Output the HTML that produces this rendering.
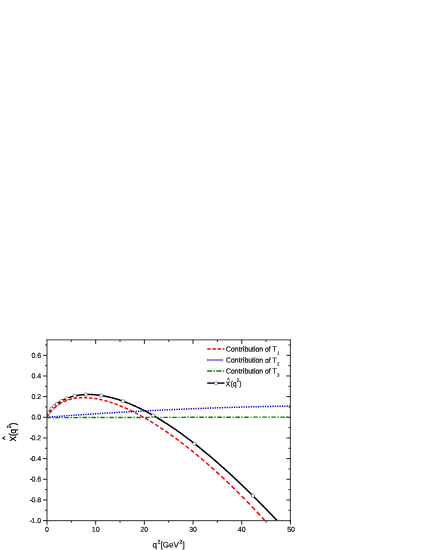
<!DOCTYPE html>
<html><head><meta charset="utf-8"><title>chart</title>
<style>
html,body{margin:0;padding:0;background:#fff;}
body{width:425px;height:550px;position:relative;overflow:hidden;font-family:"Liberation Sans",sans-serif;color:#111;}
.t{position:absolute;left:0;top:0;white-space:nowrap;line-height:1;-webkit-text-stroke:0.12px #111;}
.yl{font-size:7px;text-align:right;width:30px;-webkit-text-stroke:0.2px #111;}
.xl{font-size:7px;text-align:center;width:30px;-webkit-text-stroke:0.2px #111;}
.lg{font-size:6.87px;-webkit-text-stroke:0.22px #111;}
sub{font-size:4.5px;vertical-align:baseline;position:relative;top:2.6px;left:0.3px;-webkit-text-stroke:0.1px #111;color:#111}
sup{font-size:4.2px;vertical-align:baseline;position:relative;top:-3.2px;-webkit-text-stroke:0;color:#333}
.s2{font-size:5.2px;top:-4.2px;margin-left:0.6px;margin-right:0.1px;color:#000;-webkit-text-stroke:0.2px #000;}
</style></head><body>
<svg width="425" height="550" viewBox="0 0 425 550" style="position:absolute;left:0;top:0">
<defs><clipPath id="c"><rect x="47.0" y="339.9" width="243.39999999999998" height="180.80000000000007"/></clipPath></defs>
<g clip-path="url(#c)" fill="none">
<path d="M47.00,417.70 L47.01,417.46 L47.03,417.22 L47.06,416.96 L47.10,416.69 L47.16,416.42 L47.23,416.13 L47.31,415.84 L47.41,415.53 L47.52,415.22 L47.61,414.98 L47.64,414.91 L47.77,414.58 L47.92,414.25 L48.08,413.91 L48.22,413.63 L48.25,413.57 L48.44,413.22 L48.64,412.86 L48.83,412.53 L48.85,412.50 L49.07,412.14 L49.31,411.77 L49.44,411.57 L49.56,411.39 L49.82,411.02 L50.05,410.70 L50.10,410.64 L50.39,410.25 L50.66,409.90 L50.69,409.87 L51.00,409.48 L51.27,409.16 L51.33,409.09 L51.67,408.70 L51.88,408.47 L52.02,408.31 L52.38,407.92 L52.49,407.81 L52.76,407.53 L53.10,407.19 L53.15,407.14 L53.55,406.75 L53.71,406.60 L53.97,406.36 L54.32,406.04 L54.40,405.97 L54.84,405.58 L54.93,405.50 L55.30,405.19 L55.54,404.99 L55.76,404.81 L56.15,404.50 L56.24,404.42 L56.74,404.04 L56.76,404.03 L57.37,403.57 L57.98,403.14 L58.59,402.72 L59.20,402.32 L59.81,401.93 L60.42,401.56 L61.03,401.20 L61.64,400.86 L62.25,400.53 L62.86,400.21 L63.47,399.90 L64.08,399.60 L64.69,399.32 L65.30,399.04 L65.91,398.78 L66.52,398.52 L67.13,398.28 L67.74,398.04 L68.35,397.82 L68.96,397.60 L69.57,397.39 L70.18,397.19 L70.79,397.00 L71.40,396.82 L72.01,396.65 L72.62,396.48 L73.23,396.32 L73.84,396.17 L74.45,396.03 L75.06,395.89 L75.67,395.76 L76.28,395.64 L76.89,395.52 L77.50,395.41 L78.11,395.31 L78.72,395.21 L79.33,395.13 L79.94,395.04 L80.55,394.97 L81.16,394.89 L81.77,394.83 L82.38,394.77 L82.99,394.72 L83.60,394.67 L84.21,394.63 L84.82,394.59 L85.43,394.56 L86.04,394.54 L86.65,394.52 L87.26,394.51 L87.87,394.50 L88.48,394.49 L89.09,394.50 L89.70,394.50 L90.31,394.51 L90.92,394.53 L91.53,394.55 L92.14,394.58 L92.75,394.61 L93.36,394.64 L93.97,394.68 L94.58,394.73 L95.19,394.78 L95.80,394.83 L96.41,394.89 L97.02,394.95 L97.63,395.02 L98.24,395.09 L98.85,395.17 L99.46,395.25 L100.07,395.33 L100.68,395.42 L101.29,395.51 L101.90,395.61 L102.51,395.71 L103.12,395.82 L103.73,395.92 L104.34,396.04 L104.95,396.15 L105.56,396.27 L106.17,396.40 L106.78,396.53 L107.39,396.66 L108.00,396.79 L108.61,396.93 L109.22,397.07 L109.83,397.22 L110.44,397.37 L111.05,397.52 L111.66,397.68 L112.27,397.84 L112.88,398.01 L113.49,398.17 L114.10,398.34 L114.71,398.52 L115.32,398.70 L115.93,398.88 L116.54,399.06 L117.15,399.25 L117.76,399.44 L118.37,399.63 L118.98,399.83 L119.59,400.03 L120.20,400.23 L120.81,400.44 L121.42,400.65 L122.03,400.86 L122.64,401.08 L123.25,401.30 L123.86,401.52 L124.47,401.75 L125.08,401.98 L125.69,402.21 L126.30,402.44 L126.91,402.68 L127.52,402.92 L128.13,403.16 L128.74,403.41 L129.35,403.65 L129.96,403.91 L130.57,404.16 L131.18,404.42 L131.79,404.68 L132.40,404.94 L133.01,405.21 L133.62,405.47 L134.23,405.74 L134.84,406.02 L135.45,406.29 L136.06,406.57 L136.67,406.85 L137.28,407.14 L137.89,407.42 L138.50,407.71 L139.11,408.01 L139.72,408.30 L140.33,408.60 L140.94,408.90 L141.55,409.20 L142.16,409.50 L142.77,409.81 L143.38,410.12 L143.99,410.43 L144.60,410.75 L145.21,411.06 L145.82,411.38 L146.43,411.70 L147.04,412.03 L147.65,412.35 L148.26,412.68 L148.87,413.01 L149.48,413.35 L150.09,413.68 L150.70,414.02 L151.31,414.36 L151.92,414.70 L152.53,415.05 L153.14,415.40 L153.75,415.74 L154.36,416.10 L154.97,416.45 L155.58,416.81 L156.19,417.16 L156.80,417.53 L157.41,417.89 L158.02,418.25 L158.63,418.62 L159.24,418.99 L159.85,419.36 L160.46,419.73 L161.07,420.11 L161.68,420.49 L162.29,420.87 L162.90,421.25 L163.51,421.63 L164.12,422.02 L164.73,422.40 L165.34,422.79 L165.95,423.19 L166.56,423.58 L167.17,423.98 L167.78,424.37 L168.39,424.77 L169.01,425.18 L169.62,425.58 L170.23,425.98 L170.84,426.39 L171.45,426.80 L172.06,427.21 L172.67,427.63 L173.28,428.04 L173.89,428.46 L174.50,428.88 L175.11,429.30 L175.72,429.72 L176.33,430.15 L176.94,430.57 L177.55,431.00 L178.16,431.43 L178.77,431.86 L179.38,432.30 L179.99,432.73 L180.60,433.17 L181.21,433.61 L181.82,434.05 L182.43,434.50 L183.04,434.94 L183.65,435.39 L184.26,435.83 L184.87,436.28 L185.48,436.74 L186.09,437.19 L186.70,437.64 L187.31,438.10 L187.92,438.56 L188.53,439.02 L189.14,439.48 L189.75,439.94 L190.36,440.41 L190.97,440.88 L191.58,441.35 L192.19,441.82 L192.80,442.29 L193.41,442.76 L194.02,443.24 L194.63,443.71 L195.24,444.19 L195.85,444.67 L196.46,445.15 L197.07,445.64 L197.68,446.12 L198.29,446.61 L198.90,447.09 L199.51,447.58 L200.12,448.07 L200.73,448.57 L201.34,449.06 L201.95,449.56 L202.56,450.05 L203.17,450.55 L203.78,451.05 L204.39,451.55 L205.00,452.06 L205.61,452.56 L206.22,453.07 L206.83,453.58 L207.44,454.09 L208.05,454.60 L208.66,455.11 L209.27,455.62 L209.88,456.14 L210.49,456.65 L211.10,457.17 L211.71,457.69 L212.32,458.21 L212.93,458.73 L213.54,459.26 L214.15,459.78 L214.76,460.31 L215.37,460.84 L215.98,461.37 L216.59,461.90 L217.20,462.43 L217.81,462.96 L218.42,463.50 L219.03,464.03 L219.64,464.57 L220.25,465.11 L220.86,465.65 L221.47,466.19 L222.08,466.73 L222.69,467.28 L223.30,467.82 L223.91,468.37 L224.52,468.92 L225.13,469.47 L225.74,470.02 L226.35,470.57 L226.96,471.12 L227.57,471.68 L228.18,472.23 L228.79,472.79 L229.40,473.35 L230.01,473.91 L230.62,474.47 L231.23,475.03 L231.84,475.60 L232.45,476.16 L233.06,476.73 L233.67,477.30 L234.28,477.86 L234.89,478.43 L235.50,479.01 L236.11,479.58 L236.72,480.15 L237.33,480.73 L237.94,481.30 L238.55,481.88 L239.16,482.46 L239.77,483.04 L240.38,483.62 L240.99,484.20 L241.60,484.78 L242.21,485.37 L242.82,485.95 L243.43,486.54 L244.04,487.13 L244.65,487.72 L245.26,488.31 L245.87,488.90 L246.48,489.49 L247.09,490.08 L247.70,490.68 L248.31,491.27 L248.92,491.87 L249.53,492.47 L250.14,493.07 L250.75,493.67 L251.36,494.27 L251.97,494.87 L252.58,495.48 L253.19,496.08 L253.80,496.69 L254.41,497.29 L255.02,497.90 L255.63,498.51 L256.24,499.12 L256.85,499.73 L257.46,500.34 L258.07,500.96 L258.68,501.57 L259.29,502.19 L259.90,502.80 L260.51,503.42 L261.12,504.04 L261.73,504.66 L262.34,505.28 L262.95,505.90 L263.56,506.52 L264.17,507.15 L264.78,507.77 L265.39,508.40 L266.00,509.03 L266.61,509.65 L267.22,510.28 L267.83,510.91 L268.44,511.54 L269.05,512.17 L269.66,512.81 L270.27,513.44 L270.88,514.08 L271.49,514.71 L272.10,515.35 L272.71,515.99 L273.32,516.63 L273.93,517.27 L274.54,517.91 L275.15,518.55 L275.76,519.19 L276.37,519.83 L276.98,520.48 L277.59,521.12" stroke="#000" stroke-width="1.5"/>
<circle cx="48.70" cy="412.75" r="1.7" fill="#fff" stroke="#222" stroke-width="0.45"/>
<circle cx="51.58" cy="408.81" r="1.7" fill="#fff" stroke="#222" stroke-width="0.45"/>
<circle cx="54.06" cy="406.28" r="1.7" fill="#fff" stroke="#222" stroke-width="0.45"/>
<circle cx="56.88" cy="403.93" r="1.7" fill="#fff" stroke="#222" stroke-width="0.45"/>
<circle cx="61.60" cy="400.88" r="1.7" fill="#fff" stroke="#222" stroke-width="0.45"/>
<circle cx="66.96" cy="398.35" r="1.7" fill="#fff" stroke="#222" stroke-width="0.45"/>
<circle cx="74.75" cy="395.96" r="1.7" fill="#fff" stroke="#222" stroke-width="0.45"/>
<circle cx="85.94" cy="394.54" r="1.7" fill="#fff" stroke="#222" stroke-width="0.45"/>
<circle cx="101.28" cy="395.51" r="1.7" fill="#fff" stroke="#222" stroke-width="0.45"/>
<circle cx="122.94" cy="401.19" r="1.7" fill="#fff" stroke="#222" stroke-width="0.45"/>
<circle cx="153.12" cy="415.38" r="1.7" fill="#fff" stroke="#222" stroke-width="0.45"/>
<circle cx="194.50" cy="443.61" r="1.7" fill="#fff" stroke="#222" stroke-width="0.45"/>
<circle cx="252.92" cy="495.81" r="1.7" fill="#fff" stroke="#222" stroke-width="0.45"/>
<path d="M47.10,417.32 L47.29,416.87 L47.47,416.48 L47.66,416.12 L47.84,415.79 L48.03,415.46 L48.21,415.15 L48.40,414.85 M49.80,412.83 L50.06,412.50 L50.31,412.17 L50.57,411.85 L50.83,411.54 L51.09,411.24 L51.34,410.94 L51.60,410.65 M53.90,408.32 L54.29,407.97 L54.67,407.62 L55.06,407.29 L55.44,406.97 L55.83,406.65 L56.21,406.34 L56.60,406.05 M58.59,404.63 L59.05,404.33 L59.51,404.03 L59.98,403.75 L60.44,403.47 L60.91,403.20 L61.37,402.94 L61.84,402.69 M63.67,401.78 L64.13,401.56 L64.60,401.36 L65.06,401.16 L65.53,400.97 L65.99,400.78 L66.46,400.60 L66.92,400.43 M68.75,399.81 L69.22,399.66 L69.68,399.52 L70.15,399.39 L70.61,399.27 L71.08,399.14 L71.54,399.03 L72.00,398.92 M73.84,398.53 L74.30,398.44 L74.77,398.36 L75.23,398.28 L75.70,398.21 L76.16,398.14 L76.63,398.08 L77.09,398.02 M78.92,397.83 L79.39,397.79 L79.85,397.75 L80.32,397.72 L80.78,397.70 L81.25,397.67 L81.71,397.65 L82.17,397.64 M84.01,397.61 L84.47,397.61 L84.94,397.62 L85.40,397.63 L85.87,397.64 L86.33,397.66 L86.80,397.67 L87.26,397.70 M89.09,397.82 L89.56,397.85 L90.02,397.89 L90.49,397.94 L90.95,397.98 L91.42,398.03 L91.88,398.09 L92.34,398.14 M94.18,398.39 L94.64,398.46 L95.11,398.53 L95.57,398.61 L96.04,398.68 L96.50,398.76 L96.97,398.85 L97.43,398.93 M99.27,399.29 L99.73,399.39 L100.19,399.49 L100.66,399.59 L101.12,399.70 L101.59,399.80 L102.05,399.91 L102.52,400.03 M104.35,400.49 L104.81,400.61 L105.28,400.74 L105.74,400.87 L106.21,401.00 L106.67,401.13 L107.14,401.26 L107.60,401.40 M109.44,401.96 L109.90,402.10 L110.36,402.25 L110.83,402.40 L111.29,402.55 L111.76,402.71 L112.22,402.86 L112.69,403.02 M114.52,403.67 L114.98,403.83 L115.45,404.00 L115.91,404.17 L116.38,404.35 L116.84,404.52 L117.31,404.70 L117.77,404.88 M119.61,405.60 L120.07,405.79 L120.53,405.98 L121.00,406.17 L121.46,406.36 L121.93,406.55 L122.39,406.75 L122.86,406.95 M124.69,407.74 L125.15,407.95 L125.62,408.16 L126.08,408.36 L126.55,408.57 L127.01,408.79 L127.48,409.00 L127.94,409.21 M129.78,410.08 L130.24,410.30 L130.70,410.53 L131.17,410.75 L131.63,410.98 L132.10,411.21 L132.56,411.44 L133.03,411.67 M134.86,412.60 L135.32,412.84 L135.79,413.07 L136.25,413.32 L136.72,413.56 L137.18,413.80 L137.65,414.05 L138.11,414.30 M139.94,415.28 L140.41,415.54 L140.87,415.79 L141.34,416.05 L141.80,416.31 L142.27,416.56 L142.73,416.82 L143.19,417.09 M145.03,418.13 L145.49,418.40 L145.96,418.67 L146.42,418.94 L146.89,419.21 L147.35,419.48 L147.82,419.76 L148.28,420.03 M150.12,421.13 L150.58,421.41 L151.04,421.70 L151.51,421.98 L151.97,422.26 L152.44,422.55 L152.90,422.84 L153.37,423.13 M155.20,424.28 L155.66,424.57 L156.13,424.87 L156.59,425.16 L157.06,425.46 L157.52,425.76 L157.99,426.06 L158.45,426.36 M160.28,427.56 L160.75,427.87 L161.21,428.18 L161.68,428.48 L162.14,428.79 L162.61,429.11 L163.07,429.42 L163.53,429.73 M165.37,430.98 L165.83,431.30 L166.30,431.62 L166.76,431.94 L167.23,432.26 L167.69,432.58 L168.16,432.91 L168.62,433.23 M170.45,434.52 L170.92,434.85 L171.38,435.18 L171.85,435.52 L172.31,435.85 L172.78,436.18 L173.24,436.52 L173.70,436.86 M175.54,438.19 L176.00,438.53 L176.47,438.88 L176.93,439.22 L177.40,439.56 L177.86,439.91 L178.33,440.25 L178.79,440.60 M180.62,441.98 L181.09,442.33 L181.55,442.69 L182.02,443.04 L182.48,443.40 L182.95,443.75 L183.41,444.11 L183.88,444.47 M185.71,445.89 L186.17,446.25 L186.64,446.62 L187.10,446.98 L187.57,447.34 L188.03,447.71 L188.50,448.08 L188.96,448.45 M190.79,449.91 L191.26,450.28 L191.72,450.66 L192.19,451.03 L192.65,451.41 L193.12,451.78 L193.58,452.16 L194.04,452.54 M195.88,454.04 L196.34,454.43 L196.81,454.81 L197.27,455.19 L197.74,455.58 L198.20,455.97 L198.67,456.35 L199.13,456.74 M200.97,458.28 L201.43,458.68 L201.89,459.07 L202.36,459.47 L202.82,459.86 L203.29,460.26 L203.75,460.65 L204.22,461.05 M206.05,462.63 L206.51,463.04 L206.98,463.44 L207.44,463.85 L207.91,464.25 L208.37,464.66 L208.84,465.06 L209.30,465.47 M211.13,467.09 L211.60,467.50 L212.06,467.92 L212.53,468.33 L212.99,468.75 L213.46,469.16 L213.92,469.58 L214.38,470.00 M216.22,471.65 L216.68,472.08 L217.15,472.50 L217.61,472.92 L218.08,473.35 L218.54,473.77 L219.01,474.20 L219.47,474.62 M221.31,476.32 L221.77,476.75 L222.23,477.18 L222.70,477.62 L223.16,478.05 L223.63,478.49 L224.09,478.92 L224.56,479.36 M226.39,481.09 L226.85,481.53 L227.32,481.97 L227.78,482.41 L228.25,482.86 L228.71,483.30 L229.18,483.75 L229.64,484.19 M231.47,485.96 L231.94,486.41 L232.40,486.86 L232.87,487.32 L233.33,487.77 L233.80,488.22 L234.26,488.68 L234.72,489.13 M236.56,490.94 L237.02,491.40 L237.49,491.86 L237.95,492.32 L238.42,492.78 L238.88,493.25 L239.35,493.71 L239.81,494.17 M241.65,496.02 L242.11,496.49 L242.57,496.96 L243.04,497.43 L243.50,497.90 L243.97,498.37 L244.43,498.84 L244.90,499.32 M246.73,501.20 L247.19,501.68 L247.66,502.16 L248.12,502.64 L248.59,503.12 L249.05,503.60 L249.52,504.08 L249.98,504.57 M251.81,506.48 L252.28,506.97 L252.74,507.46 L253.21,507.95 L253.67,508.44 L254.14,508.93 L254.60,509.42 L255.06,509.92 M256.90,511.87 L257.36,512.37 L257.83,512.87 L258.29,513.37 L258.76,513.87 L259.22,514.37 L259.69,514.87 L260.15,515.37 M261.99,517.36 L262.45,517.87 L262.91,518.38 L263.38,518.88 L263.84,519.39 L264.31,519.90 L264.77,520.41 L265.24,520.93 M267.07,522.96 L267.20,523.10 L267.34,523.25 L267.47,523.40 L267.60,523.55 L267.73,523.70 L267.87,523.84 L268.00,523.99" stroke="#ff0000" stroke-width="1.5"/>
<path d="M47.00,417.65 L47.01,417.65 L47.03,417.65 L47.06,417.65 L47.10,417.65 L47.16,417.65 L47.23,417.65 L47.31,417.65 L47.41,417.65 L47.52,417.65 L47.61,417.65 L47.64,417.65 L47.77,417.65 L47.92,417.65 L48.08,417.65 L48.22,417.65 L48.25,417.65 L48.44,417.64 L48.64,417.64 L48.83,417.64 L48.85,417.64 L49.07,417.64 L49.31,417.64 L49.44,417.64 L49.56,417.64 L49.82,417.64 L50.05,417.64 L50.10,417.64 L50.39,417.64 L50.66,417.64 L50.69,417.64 L51.00,417.64 L51.27,417.64 L51.33,417.64 L51.67,417.64 L51.88,417.64 L52.02,417.64 L52.38,417.64 L52.49,417.64 L52.76,417.63 L53.10,417.63 L53.15,417.63 L53.55,417.63 L53.71,417.63 L53.97,417.63 L54.32,417.63 L54.40,417.63 L54.84,417.63 L54.93,417.63 L55.30,417.63 L55.54,417.63 L55.76,417.63 L56.15,417.63 L56.24,417.63 L56.74,417.63 L56.76,417.63 L57.37,417.62 L57.98,417.62 L58.59,417.62 L59.20,417.62 L59.81,417.62 L60.42,417.62 L61.03,417.62 L61.64,417.61 L62.25,417.61 L62.86,417.61 L63.47,417.61 L64.08,417.61 L64.69,417.61 L65.30,417.60 L65.91,417.60 L66.52,417.60 L67.13,417.60 L67.74,417.60 L68.35,417.60 L68.96,417.60 L69.57,417.59 L70.18,417.59 L70.79,417.59 L71.40,417.59 L72.01,417.59 L72.62,417.59 L73.23,417.59 L73.84,417.58 L74.45,417.58 L75.06,417.58 L75.67,417.58 L76.28,417.58 L76.89,417.58 L77.50,417.58 L78.11,417.57 L78.72,417.57 L79.33,417.57 L79.94,417.57 L80.55,417.57 L81.16,417.57 L81.77,417.57 L82.38,417.56 L82.99,417.56 L83.60,417.56 L84.21,417.56 L84.82,417.56 L85.43,417.56 L86.04,417.56 L86.65,417.55 L87.26,417.55 L87.87,417.55 L88.48,417.55 L89.09,417.55 L89.70,417.55 L90.31,417.55 L90.92,417.54 L91.53,417.54 L92.14,417.54 L92.75,417.54 L93.36,417.54 L93.97,417.54 L94.58,417.54 L95.19,417.53 L95.80,417.53 L96.41,417.53 L97.02,417.53 L97.63,417.53 L98.24,417.53 L98.85,417.53 L99.46,417.52 L100.07,417.52 L100.68,417.52 L101.29,417.52 L101.90,417.52 L102.51,417.52 L103.12,417.52 L103.73,417.51 L104.34,417.51 L104.95,417.51 L105.56,417.51 L106.17,417.51 L106.78,417.51 L107.39,417.51 L108.00,417.50 L108.61,417.50 L109.22,417.50 L109.83,417.50 L110.44,417.50 L111.05,417.50 L111.66,417.50 L112.27,417.49 L112.88,417.49 L113.49,417.49 L114.10,417.49 L114.71,417.49 L115.32,417.49 L115.93,417.49 L116.54,417.48 L117.15,417.48 L117.76,417.48 L118.37,417.48 L118.98,417.48 L119.59,417.48 L120.20,417.48 L120.81,417.47 L121.42,417.47 L122.03,417.47 L122.64,417.47 L123.25,417.47 L123.86,417.47 L124.47,417.47 L125.08,417.46 L125.69,417.46 L126.30,417.46 L126.91,417.46 L127.52,417.46 L128.13,417.46 L128.74,417.46 L129.35,417.45 L129.96,417.45 L130.57,417.45 L131.18,417.45 L131.79,417.45 L132.40,417.45 L133.01,417.45 L133.62,417.44 L134.23,417.44 L134.84,417.44 L135.45,417.44 L136.06,417.44 L136.67,417.44 L137.28,417.44 L137.89,417.43 L138.50,417.43 L139.11,417.43 L139.72,417.43 L140.33,417.43 L140.94,417.43 L141.55,417.43 L142.16,417.42 L142.77,417.42 L143.38,417.42 L143.99,417.42 L144.60,417.42 L145.21,417.42 L145.82,417.42 L146.43,417.41 L147.04,417.41 L147.65,417.41 L148.26,417.41 L148.87,417.41 L149.48,417.41 L150.09,417.41 L150.70,417.40 L151.31,417.40 L151.92,417.40 L152.53,417.40 L153.14,417.40 L153.75,417.40 L154.36,417.40 L154.97,417.39 L155.58,417.39 L156.19,417.39 L156.80,417.39 L157.41,417.39 L158.02,417.39 L158.63,417.39 L159.24,417.38 L159.85,417.38 L160.46,417.38 L161.07,417.38 L161.68,417.38 L162.29,417.38 L162.90,417.38 L163.51,417.37 L164.12,417.37 L164.73,417.37 L165.34,417.37 L165.95,417.37 L166.56,417.37 L167.17,417.37 L167.78,417.36 L168.39,417.36 L169.01,417.36 L169.62,417.36 L170.23,417.36 L170.84,417.36 L171.45,417.36 L172.06,417.35 L172.67,417.35 L173.28,417.35 L173.89,417.35 L174.50,417.35 L175.11,417.35 L175.72,417.35 L176.33,417.34 L176.94,417.34 L177.55,417.34 L178.16,417.34 L178.77,417.34 L179.38,417.34 L179.99,417.34 L180.60,417.33 L181.21,417.33 L181.82,417.33 L182.43,417.33 L183.04,417.33 L183.65,417.33 L184.26,417.33 L184.87,417.32 L185.48,417.32 L186.09,417.32 L186.70,417.32 L187.31,417.32 L187.92,417.32 L188.53,417.32 L189.14,417.31 L189.75,417.31 L190.36,417.31 L190.97,417.31 L191.58,417.31 L192.19,417.31 L192.80,417.31 L193.41,417.30 L194.02,417.30 L194.63,417.30 L195.24,417.30 L195.85,417.30 L196.46,417.30 L197.07,417.30 L197.68,417.29 L198.29,417.29 L198.90,417.29 L199.51,417.29 L200.12,417.29 L200.73,417.29 L201.34,417.29 L201.95,417.28 L202.56,417.28 L203.17,417.28 L203.78,417.28 L204.39,417.28 L205.00,417.28 L205.61,417.28 L206.22,417.27 L206.83,417.27 L207.44,417.27 L208.05,417.27 L208.66,417.27 L209.27,417.27 L209.88,417.27 L210.49,417.26 L211.10,417.26 L211.71,417.26 L212.32,417.26 L212.93,417.26 L213.54,417.26 L214.15,417.26 L214.76,417.25 L215.37,417.25 L215.98,417.25 L216.59,417.25 L217.20,417.25 L217.81,417.25 L218.42,417.25 L219.03,417.24 L219.64,417.24 L220.25,417.24 L220.86,417.24 L221.47,417.24 L222.08,417.24 L222.69,417.24 L223.30,417.23 L223.91,417.23 L224.52,417.23 L225.13,417.23 L225.74,417.23 L226.35,417.23 L226.96,417.23 L227.57,417.22 L228.18,417.22 L228.79,417.22 L229.40,417.22 L230.01,417.22 L230.62,417.22 L231.23,417.22 L231.84,417.21 L232.45,417.21 L233.06,417.21 L233.67,417.21 L234.28,417.21 L234.89,417.21 L235.50,417.21 L236.11,417.20 L236.72,417.20 L237.33,417.20 L237.94,417.20 L238.55,417.20 L239.16,417.20 L239.77,417.19 L240.38,417.19 L240.99,417.19 L241.60,417.19 L242.21,417.19 L242.82,417.19 L243.43,417.19 L244.04,417.18 L244.65,417.18 L245.26,417.18 L245.87,417.18 L246.48,417.18 L247.09,417.18 L247.70,417.18 L248.31,417.17 L248.92,417.17 L249.53,417.17 L250.14,417.17 L250.75,417.17 L251.36,417.17 L251.97,417.17 L252.58,417.16 L253.19,417.16 L253.80,417.16 L254.41,417.16 L255.02,417.16 L255.63,417.16 L256.24,417.16 L256.85,417.15 L257.46,417.15 L258.07,417.15 L258.68,417.15 L259.29,417.15 L259.90,417.15 L260.51,417.15 L261.12,417.14 L261.73,417.14 L262.34,417.14 L262.95,417.14 L263.56,417.14 L264.17,417.14 L264.78,417.14 L265.39,417.13 L266.00,417.13 L266.61,417.13 L267.22,417.13 L267.83,417.13 L268.44,417.13 L269.05,417.13 L269.66,417.12 L270.27,417.12 L270.88,417.12 L271.49,417.12 L272.10,417.12 L272.71,417.12 L273.32,417.12 L273.93,417.11 L274.54,417.11 L275.15,417.11 L275.76,417.11 L276.37,417.11 L276.98,417.11 L277.59,417.11 L278.20,417.10 L278.81,417.10 L279.42,417.10 L280.03,417.10 L280.64,417.10 L281.25,417.10 L281.86,417.10 L282.47,417.09 L283.08,417.09 L283.69,417.09 L284.30,417.09 L284.91,417.09 L285.52,417.09 L286.13,417.09 L286.74,417.08 L287.35,417.08 L287.96,417.08 L288.57,417.08 L289.18,417.08 L289.79,417.08 L290.40,417.08" stroke="#008000" stroke-width="1.4" stroke-dasharray="4.5,1.6,1.3,1.6" stroke-dashoffset="0.65"/>
<path d="M47.00,417.23 L47.01,417.23 L47.03,417.23 L47.06,417.23 L47.10,417.22 L47.16,417.22 L47.23,417.21 L47.31,417.21 L47.41,417.20 L47.52,417.19 L47.61,417.19 L47.64,417.18 L47.77,417.17 L47.92,417.16 L48.08,417.15 L48.22,417.14 L48.25,417.14 L48.44,417.12 L48.64,417.11 L48.83,417.09 L48.85,417.09 L49.07,417.07 L49.31,417.05 L49.44,417.05 L49.56,417.04 L49.82,417.02 L50.05,417.00 L50.10,416.99 L50.39,416.97 L50.66,416.95 L50.69,416.95 L51.00,416.93 L51.27,416.91 L51.33,416.90 L51.67,416.88 L51.88,416.86 L52.02,416.85 L52.38,416.82 L52.49,416.81 L52.76,416.79 L53.10,416.77 L53.15,416.76 L53.55,416.73 L53.71,416.72 L53.97,416.70 L54.32,416.68 L54.40,416.67 L54.84,416.64 L54.93,416.63 L55.30,416.60 L55.54,416.58 L55.76,416.57 L56.15,416.54 L56.24,416.53 L56.74,416.50 L56.76,416.49 L57.37,416.45 L57.98,416.40 L58.59,416.36 L59.20,416.31 L59.81,416.27 L60.42,416.22 L61.03,416.18 L61.64,416.13 L62.25,416.09 L62.86,416.04 L63.47,416.00 L64.08,415.96 L64.69,415.91 L65.30,415.87 L65.91,415.82 L66.52,415.78 L67.13,415.74 L67.74,415.69 L68.35,415.65 L68.96,415.60 L69.57,415.56 L70.18,415.52 L70.79,415.47 L71.40,415.43 L72.01,415.39 L72.62,415.35 L73.23,415.30 L73.84,415.26 L74.45,415.22 L75.06,415.17 L75.67,415.13 L76.28,415.09 L76.89,415.05 L77.50,415.00 L78.11,414.96 L78.72,414.92 L79.33,414.88 L79.94,414.84 L80.55,414.79 L81.16,414.75 L81.77,414.71 L82.38,414.67 L82.99,414.63 L83.60,414.59 L84.21,414.55 L84.82,414.51 L85.43,414.46 L86.04,414.42 L86.65,414.38 L87.26,414.34 L87.87,414.30 L88.48,414.26 L89.09,414.22 L89.70,414.18 L90.31,414.14 L90.92,414.10 L91.53,414.06 L92.14,414.02 L92.75,413.98 L93.36,413.94 L93.97,413.90 L94.58,413.86 L95.19,413.82 L95.80,413.78 L96.41,413.74 L97.02,413.70 L97.63,413.66 L98.24,413.63 L98.85,413.59 L99.46,413.55 L100.07,413.51 L100.68,413.47 L101.29,413.43 L101.90,413.39 L102.51,413.35 L103.12,413.32 L103.73,413.28 L104.34,413.24 L104.95,413.20 L105.56,413.16 L106.17,413.13 L106.78,413.09 L107.39,413.05 L108.00,413.01 L108.61,412.98 L109.22,412.94 L109.83,412.90 L110.44,412.86 L111.05,412.83 L111.66,412.79 L112.27,412.75 L112.88,412.72 L113.49,412.68 L114.10,412.64 L114.71,412.61 L115.32,412.57 L115.93,412.54 L116.54,412.50 L117.15,412.46 L117.76,412.43 L118.37,412.39 L118.98,412.36 L119.59,412.32 L120.20,412.28 L120.81,412.25 L121.42,412.21 L122.03,412.18 L122.64,412.14 L123.25,412.11 L123.86,412.07 L124.47,412.04 L125.08,412.00 L125.69,411.97 L126.30,411.93 L126.91,411.90 L127.52,411.86 L128.13,411.83 L128.74,411.80 L129.35,411.76 L129.96,411.73 L130.57,411.69 L131.18,411.66 L131.79,411.63 L132.40,411.59 L133.01,411.56 L133.62,411.52 L134.23,411.49 L134.84,411.46 L135.45,411.42 L136.06,411.39 L136.67,411.36 L137.28,411.33 L137.89,411.29 L138.50,411.26 L139.11,411.23 L139.72,411.19 L140.33,411.16 L140.94,411.13 L141.55,411.10 L142.16,411.07 L142.77,411.03 L143.38,411.00 L143.99,410.97 L144.60,410.94 L145.21,410.91 L145.82,410.87 L146.43,410.84 L147.04,410.81 L147.65,410.78 L148.26,410.75 L148.87,410.72 L149.48,410.69 L150.09,410.66 L150.70,410.62 L151.31,410.59 L151.92,410.56 L152.53,410.53 L153.14,410.50 L153.75,410.47 L154.36,410.44 L154.97,410.41 L155.58,410.38 L156.19,410.35 L156.80,410.32 L157.41,410.29 L158.02,410.26 L158.63,410.23 L159.24,410.20 L159.85,410.17 L160.46,410.14 L161.07,410.11 L161.68,410.09 L162.29,410.06 L162.90,410.03 L163.51,410.00 L164.12,409.97 L164.73,409.94 L165.34,409.91 L165.95,409.88 L166.56,409.86 L167.17,409.83 L167.78,409.80 L168.39,409.77 L169.01,409.74 L169.62,409.72 L170.23,409.69 L170.84,409.66 L171.45,409.63 L172.06,409.60 L172.67,409.58 L173.28,409.55 L173.89,409.52 L174.50,409.50 L175.11,409.47 L175.72,409.44 L176.33,409.41 L176.94,409.39 L177.55,409.36 L178.16,409.33 L178.77,409.31 L179.38,409.28 L179.99,409.25 L180.60,409.23 L181.21,409.20 L181.82,409.18 L182.43,409.15 L183.04,409.12 L183.65,409.10 L184.26,409.07 L184.87,409.05 L185.48,409.02 L186.09,409.00 L186.70,408.97 L187.31,408.95 L187.92,408.92 L188.53,408.90 L189.14,408.87 L189.75,408.85 L190.36,408.82 L190.97,408.80 L191.58,408.77 L192.19,408.75 L192.80,408.72 L193.41,408.70 L194.02,408.68 L194.63,408.65 L195.24,408.63 L195.85,408.60 L196.46,408.58 L197.07,408.56 L197.68,408.53 L198.29,408.51 L198.90,408.49 L199.51,408.46 L200.12,408.44 L200.73,408.42 L201.34,408.39 L201.95,408.37 L202.56,408.35 L203.17,408.33 L203.78,408.30 L204.39,408.28 L205.00,408.26 L205.61,408.24 L206.22,408.21 L206.83,408.19 L207.44,408.17 L208.05,408.15 L208.66,408.12 L209.27,408.10 L209.88,408.08 L210.49,408.06 L211.10,408.04 L211.71,408.02 L212.32,408.00 L212.93,407.97 L213.54,407.95 L214.15,407.93 L214.76,407.91 L215.37,407.89 L215.98,407.87 L216.59,407.85 L217.20,407.83 L217.81,407.81 L218.42,407.79 L219.03,407.77 L219.64,407.75 L220.25,407.73 L220.86,407.71 L221.47,407.69 L222.08,407.67 L222.69,407.65 L223.30,407.63 L223.91,407.61 L224.52,407.59 L225.13,407.57 L225.74,407.55 L226.35,407.53 L226.96,407.51 L227.57,407.49 L228.18,407.48 L228.79,407.46 L229.40,407.44 L230.01,407.42 L230.62,407.40 L231.23,407.38 L231.84,407.36 L232.45,407.35 L233.06,407.33 L233.67,407.31 L234.28,407.29 L234.89,407.27 L235.50,407.26 L236.11,407.24 L236.72,407.22 L237.33,407.20 L237.94,407.19 L238.55,407.17 L239.16,407.15 L239.77,407.14 L240.38,407.12 L240.99,407.10 L241.60,407.08 L242.21,407.07 L242.82,407.05 L243.43,407.04 L244.04,407.02 L244.65,407.00 L245.26,406.99 L245.87,406.97 L246.48,406.95 L247.09,406.94 L247.70,406.92 L248.31,406.91 L248.92,406.89 L249.53,406.88 L250.14,406.86 L250.75,406.85 L251.36,406.83 L251.97,406.81 L252.58,406.80 L253.19,406.78 L253.80,406.77 L254.41,406.76 L255.02,406.74 L255.63,406.73 L256.24,406.71 L256.85,406.70 L257.46,406.68 L258.07,406.67 L258.68,406.65 L259.29,406.64 L259.90,406.63 L260.51,406.61 L261.12,406.60 L261.73,406.59 L262.34,406.57 L262.95,406.56 L263.56,406.55 L264.17,406.53 L264.78,406.52 L265.39,406.51 L266.00,406.49 L266.61,406.48 L267.22,406.47 L267.83,406.45 L268.44,406.44 L269.05,406.43 L269.66,406.42 L270.27,406.40 L270.88,406.39 L271.49,406.38 L272.10,406.37 L272.71,406.36 L273.32,406.34 L273.93,406.33 L274.54,406.32 L275.15,406.31 L275.76,406.30 L276.37,406.29 L276.98,406.28 L277.59,406.26 L278.20,406.25 L278.81,406.24 L279.42,406.23 L280.03,406.22 L280.64,406.21 L281.25,406.20 L281.86,406.19 L282.47,406.18 L283.08,406.17 L283.69,406.16 L284.30,406.15 L284.91,406.14 L285.52,406.13 L286.13,406.12 L286.74,406.11 L287.35,406.10 L287.96,406.09 L288.57,406.08 L289.18,406.07 L289.79,406.06 L290.40,406.05" stroke="#0000ff" stroke-width="1.5" stroke-dasharray="1.25,1.15"/>
</g>
<path d="M47.0,339.4 V521.2" stroke="#3a3a3a" stroke-width="1.05" fill="none"/>
<path d="M46.5,339.9 H290.79999999999995" stroke="#444" stroke-width="1" fill="none"/>
<path d="M46.5,520.7 H290.79999999999995" stroke="#333" stroke-width="1" fill="none"/>
<path d="M290.4,339.4 V521.2" stroke="#1a1a1a" stroke-width="0.85" fill="none"/>
<path d="M47.00,520.7 v4 M71.34,520.7 v2 M71.34,339.9 v2 M95.68,520.7 v4 M95.68,339.9 v4 M120.02,520.7 v2 M120.02,339.9 v2 M144.36,520.7 v4 M144.36,339.9 v4 M168.70,520.7 v2 M168.70,339.9 v2 M193.04,520.7 v4 M193.04,339.9 v4 M217.38,520.7 v2 M217.38,339.9 v2 M241.72,520.7 v4 M241.72,339.9 v4 M266.06,520.7 v2 M266.06,339.9 v2 M290.40,520.7 v4 M47.0,520.60 h-4 M47.0,510.27 h-2 M290.4,510.27 h-2 M47.0,499.94 h-4 M290.4,499.94 h-4 M47.0,489.61 h-2 M290.4,489.61 h-2 M47.0,479.28 h-4 M290.4,479.28 h-4 M47.0,468.95 h-2 M290.4,468.95 h-2 M47.0,458.62 h-4 M290.4,458.62 h-4 M47.0,448.29 h-2 M290.4,448.29 h-2 M47.0,437.96 h-4 M290.4,437.96 h-4 M47.0,427.63 h-2 M290.4,427.63 h-2 M47.0,417.30 h-4 M290.4,417.30 h-4 M47.0,406.97 h-2 M290.4,406.97 h-2 M47.0,396.64 h-4 M290.4,396.64 h-4 M47.0,386.31 h-2 M290.4,386.31 h-2 M47.0,375.98 h-4 M290.4,375.98 h-4 M47.0,365.65 h-2 M290.4,365.65 h-2 M47.0,355.32 h-4 M290.4,355.32 h-4 M47.0,344.99 h-2 M290.4,344.99 h-2" stroke="#222" stroke-width="1" fill="none"/>
<path d="M207.2,349.0 H224.5" stroke="#ff0000" stroke-width="1.3" stroke-dasharray="3.5,1.7"/>
<path d="M207.2,360.1 H222.9" stroke="#0000ff" stroke-width="1.5" stroke-dasharray="1.25,0.8"/>
<path d="M207.2,371.0 H224.2" stroke="#008000" stroke-width="1.35" stroke-dasharray="5.1,1.4,1.3,1.4"/>
<path d="M207.2,383.1 H224.5" stroke="#000" stroke-width="1.4"/>
<circle cx="215.95" cy="383.1" r="1.6" fill="#fff" stroke="#333" stroke-width="0.5"/>
<path d="M227.25,380.1 L228.4,377.7 L229.55,380.1" fill="none" stroke="#111" stroke-width="0.7"/>
</svg>
<div id="w" style="position:absolute;left:0;top:0;width:425px;height:550px;will-change:transform">
<div class="t yl" style="transform-origin:0 0;transform:translate(11.20px,516.90px) rotate(0.03deg);"><span style="margin-right:-0.55px">-</span>1.0</div>
<div class="t yl" style="transform-origin:0 0;transform:translate(11.20px,496.24px) rotate(0.03deg);"><span style="margin-right:-0.55px">-</span>0.8</div>
<div class="t yl" style="transform-origin:0 0;transform:translate(11.20px,475.58px) rotate(0.03deg);"><span style="margin-right:-0.55px">-</span>0.6</div>
<div class="t yl" style="transform-origin:0 0;transform:translate(11.20px,454.92px) rotate(0.03deg);"><span style="margin-right:-0.55px">-</span>0.4</div>
<div class="t yl" style="transform-origin:0 0;transform:translate(11.20px,434.26px) rotate(0.03deg);"><span style="margin-right:-0.55px">-</span>0.2</div>
<div class="t yl" style="transform-origin:0 0;transform:translate(11.20px,413.60px) rotate(0.03deg);">0.0</div>
<div class="t yl" style="transform-origin:0 0;transform:translate(11.20px,392.94px) rotate(0.03deg);">0.2</div>
<div class="t yl" style="transform-origin:0 0;transform:translate(11.20px,372.28px) rotate(0.03deg);">0.4</div>
<div class="t yl" style="transform-origin:0 0;transform:translate(11.20px,351.62px) rotate(0.03deg);">0.6</div>
<div class="t xl" style="transform-origin:0 0;transform:translate(32.00px,525.70px) rotate(0.03deg);">0</div>
<div class="t xl" style="transform-origin:0 0;transform:translate(80.68px,525.70px) rotate(0.03deg);">10</div>
<div class="t xl" style="transform-origin:0 0;transform:translate(129.36px,525.70px) rotate(0.03deg);">20</div>
<div class="t xl" style="transform-origin:0 0;transform:translate(178.04px,525.70px) rotate(0.03deg);">30</div>
<div class="t xl" style="transform-origin:0 0;transform:translate(226.72px,525.70px) rotate(0.03deg);">40</div>
<div class="t xl" style="transform-origin:0 0;transform:translate(276.10px,525.70px) rotate(0.03deg);">50</div>
<div class="t lg" style="transform-origin:0 50%;transform:translate(226.10px,346.40px) rotate(0.03deg) scaleY(1.07);">Contribution of T<sub>1</sub></div>
<div class="t lg" style="transform-origin:0 50%;transform:translate(226.10px,357.50px) rotate(0.03deg) scaleY(1.07);">Contribution of T<sub>2</sub></div>
<div class="t lg" style="transform-origin:0 50%;transform:translate(226.10px,368.40px) rotate(0.03deg) scaleY(1.07);">Contribution of T<sub>3</sub></div>
<div class="t lg" style="transform-origin:0 50%;transform:translate(225.65px,381.10px) rotate(0.03deg) scaleY(1.07);"><span style="font-size:6.6px;position:relative;top:0px">X</span><span style="margin-left:0.45px">(q<sup style="top:-3.8px;margin-left:0px;margin-right:0px;color:#000;font-size:4.6px;-webkit-text-stroke:0.15px #000">2</sup>)</span></div>
<div class="t " style="transform-origin:0 0;transform:translate(152.50px,541.40px) rotate(0.03deg);font-size:8.05px;-webkit-text-stroke:0.2px #111">q<sup class="s2">2</sup>[GeV<sup class="s2">2</sup>]</div>
<div class="t" style="font-size:8.05px;transform-origin:50% 50%;transform:translate(13.3px,432.0px) translate(-50%,-50%) rotate(-90deg) scaleY(1.12);-webkit-text-stroke:0.3px #000;color:#000">X(q<sup class="s2" style="color:#000;font-size:5.3px;top:-4.0px;-webkit-text-stroke:0.25px #000">2</sup>)</div>
<div class="t" style="font-size:7px;transform-origin:50% 50%;transform:translate(4.9px,438.1px) translate(-50%,-50%) rotate(-90deg);-webkit-text-stroke:0.4px #000;color:#000">^</div>
</div>
</body></html>
